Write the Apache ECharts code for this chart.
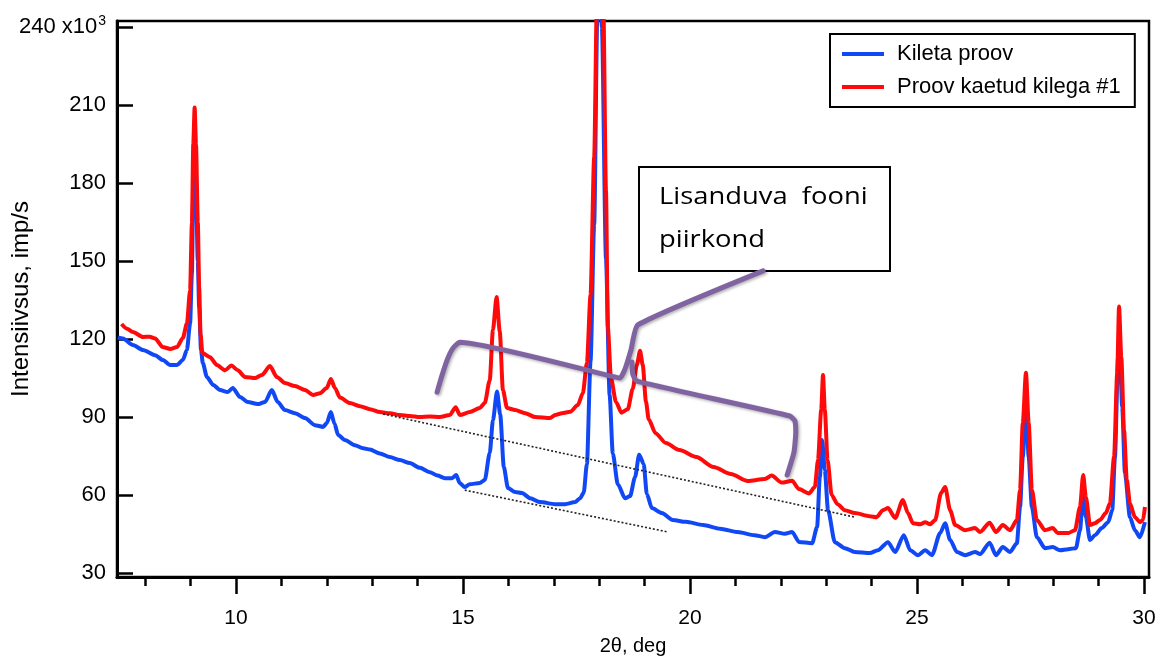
<!DOCTYPE html>
<html>
<head>
<meta charset="utf-8">
<script src="https://cdn.jsdelivr.net/npm/echarts@6/dist/echarts.min.js"></script>
<style>
  html, body { margin: 0; padding: 0; background: #fff; }
  #chart { width: 1160px; height: 659px; }
</style>
</head>
<body>
<div id="chart"></div>
<script>
// XRD scans: [2θ (deg), intensity (x10^3 imp/s)]
const kiletaProov = [
  [7.40,120.6],[7.51,120.2],[7.73,117.7],[7.95,115.8],[8.22,113.8],[8.39,111.9],[8.55,110.0],[8.70,110.0],
  [8.83,111.9],[8.92,115.8],[8.99,126.0],[9.03,145.4],[9.06,177.0],[9.09,195.0],[9.12,178.0],[9.16,150.0],
  [9.19,132.0],[9.23,115.8],[9.27,110.8],[9.36,105.4],[9.50,102.3],[9.65,100.4],[9.82,99.6],[9.93,101.2],
  [10.09,97.7],[10.26,95.8],[10.48,95.0],[10.64,95.8],[10.79,100.4],[10.92,95.8],[11.08,92.7],[11.30,91.5],
  [11.52,89.6],[11.74,86.9],[11.92,86.2],[12.00,87.7],[12.09,91.9],[12.17,87.5],[12.25,83.1],[12.40,81.2],
  [12.62,79.2],[12.80,78.0],[12.95,77.5],[13.17,76.0],[13.39,74.6],[13.61,73.5],[13.83,72.3],[14.05,70.5],
  [14.27,68.8],[14.44,67.5],[14.60,66.5],[14.76,66.5],[14.85,67.7],[14.93,64.6],[15.04,63.1],[15.15,64.2],
  [15.37,64.6],[15.48,65.8],[15.59,76.2],[15.66,88.8],[15.75,99.8],[15.82,91.0],[15.90,70.8],[15.99,62.7],
  [16.15,61.2],[16.30,60.8],[16.48,58.8],[16.70,57.3],[17.03,56.5],[17.25,56.5],[17.47,57.3],[17.58,58.8],
  [17.66,61.0],[17.73,72.0],[17.81,111.5],[17.89,164.0],[17.96,245.0],[18.01,262.0],[18.06,240.0],[18.15,150.8],
  [18.23,98.5],[18.30,76.0],[18.41,64.2],[18.57,58.8],[18.68,59.6],[18.79,66.9],[18.88,75.5],[18.98,72.0],
  [19.05,60.4],[19.16,55.0],[19.38,53.1],[19.62,50.4],[19.91,49.7],[20.29,48.5],[20.66,47.1],[21.05,45.8],
  [21.42,44.6],[21.65,43.8],[21.87,45.8],[22.09,45.1],[22.25,45.8],[22.40,42.0],[22.69,41.5],[22.80,47.7],
  [22.86,66.9],[22.91,81.2],[22.97,69.6],[23.04,54.2],[23.19,41.9],[23.41,39.6],[23.63,38.1],[23.96,37.7],
  [24.14,38.8],[24.36,41.9],[24.52,38.1],[24.71,44.6],[24.85,38.8],[25.02,36.9],[25.18,38.8],[25.33,36.9],
  [25.51,45.4],[25.62,49.2],[25.73,42.7],[25.88,38.1],[26.06,36.9],[26.28,38.1],[26.39,37.3],[26.60,41.7],
  [26.74,36.9],[26.89,40.0],[27.05,38.1],[27.20,41.5],[27.27,55.4],[27.33,74.6],[27.40,95.5],[27.46,74.6],
  [27.53,55.4],[27.64,43.8],[27.82,39.6],[27.99,40.0],[28.15,38.8],[28.33,39.2],[28.50,39.6],[28.59,46.5],
  [28.66,60.8],[28.72,51.5],[28.81,42.7],[28.92,44.6],[29.07,47.3],[29.21,49.6],[29.30,54.2],[29.36,74.6],
  [29.43,113.0],[29.46,120.0],[29.52,93.8],[29.58,68.5],[29.69,51.5],[29.80,46.5],[29.91,43.8],[30.02,49.6]
];

const proovKaetudKilega = [
  [7.48,125.8],[7.60,124.0],[7.73,122.7],[7.95,120.8],[8.10,120.9],[8.22,120.2],[8.39,116.9],[8.55,116.2],
  [8.70,116.9],[8.83,120.4],[8.92,126.0],[8.99,138.8],[9.03,164.6],[9.06,195.0],[9.09,209.0],[9.12,195.0],
  [9.16,165.0],[9.19,140.0],[9.22,122.0],[9.26,114.6],[9.43,113.0],[9.58,110.0],[9.76,108.0],[9.90,109.8],
  [10.04,108.0],[10.20,105.4],[10.42,105.0],[10.57,106.2],[10.75,109.6],[10.90,105.4],[11.08,103.1],[11.30,101.9],
  [11.52,100.4],[11.70,98.5],[11.85,99.2],[12.00,101.2],[12.09,104.6],[12.18,101.2],[12.29,97.5],[12.51,95.4],
  [12.73,94.2],[12.95,93.0],[13.17,91.9],[13.39,91.5],[13.61,90.8],[13.83,90.4],[14.05,90.0],[14.27,90.2],
  [14.49,90.0],[14.71,90.8],[14.84,93.8],[14.93,90.8],[15.15,91.9],[15.37,93.5],[15.48,95.4],[15.59,104.2],
  [15.66,123.5],[15.74,136.2],[15.81,123.0],[15.88,100.4],[15.97,93.5],[16.15,92.7],[16.37,91.5],[16.59,90.0],
  [16.92,89.6],[17.03,90.8],[17.18,91.5],[17.36,92.0],[17.53,94.6],[17.64,99.2],[17.73,110.8],[17.81,137.0],
  [17.89,190.0],[17.95,250.0],[18.02,275.0],[18.09,250.0],[18.15,177.0],[18.19,124.6],[18.26,105.0],[18.37,95.8],
  [18.49,91.7],[18.63,93.0],[18.74,100.9],[18.83,110.0],[18.90,115.5],[18.96,110.0],[19.03,96.0],[19.09,89.2],
  [19.24,83.8],[19.47,80.0],[19.77,77.3],[20.14,74.6],[20.52,70.8],[20.90,68.1],[21.27,65.4],[21.65,66.2],
  [21.80,67.5],[22.02,64.8],[22.25,65.5],[22.40,62.3],[22.62,60.6],[22.75,63.1],[22.82,73.5],[22.89,92.7],
  [22.93,106.2],[22.97,92.7],[23.03,73.5],[23.12,60.0],[23.25,56.5],[23.41,54.2],[23.63,53.1],[23.96,51.9],
  [24.11,51.5],[24.25,54.2],[24.36,55.0],[24.52,51.2],[24.69,58.1],[24.80,53.1],[24.91,49.2],[25.07,48.8],
  [25.18,49.6],[25.29,48.8],[25.40,50.4],[25.53,60.8],[25.62,63.1],[25.73,54.2],[25.84,48.5],[26.06,46.5],
  [26.28,47.3],[26.39,45.8],[26.60,49.4],[26.74,45.8],[26.89,48.5],[27.05,46.5],[27.20,50.4],[27.27,62.0],
  [27.33,87.7],[27.40,107.0],[27.46,87.7],[27.53,62.0],[27.64,50.4],[27.82,46.5],[27.99,47.3],[28.10,45.4],
  [28.33,45.4],[28.48,46.5],[28.59,55.4],[28.66,67.7],[28.72,59.2],[28.81,48.5],[28.92,49.2],[29.03,50.4],
  [29.16,53.1],[29.25,56.9],[29.34,74.6],[29.41,106.9],[29.45,132.5],[29.50,113.0],[29.56,85.0],[29.62,66.0],
  [29.69,56.9],[29.80,51.5],[29.91,49.6],[29.98,50.4],[30.02,55.4]
];

// Background guide lines (dotted) under the amorphous hump
const backgroundGuideUpper = [[13.24, 91.2], [23.63, 51.5]];
const backgroundGuideLower = [[15.04, 61.9], [19.52, 45.8]];

// Brace marking the region of added background, with its pointer to the note
const braceLeft = [
  [14.43, 99.6], [14.52, 105.0], [14.65, 111.9], [14.78, 116.5], [14.93, 118.8],
  [18.35, 105.4], [18.46, 105.0], [18.57, 108.5], [18.70, 115.8], [18.85, 125.4], [21.61, 146.2]
];
const braceRight = [
  [18.72, 111.2], [18.74, 106.5], [18.83, 103.8], [22.20, 90.4], [22.31, 88.5],
  [22.33, 84.2], [22.29, 76.5], [22.14, 67.7]
];

const yTicks = [30, 60, 90, 120, 150, 180, 210, 240];
const xMajorTicks = [10, 15, 20, 25, 30];
const xMinorTicks = [8, 9, 11, 12, 13, 14, 16, 17, 18, 19, 21, 22, 23, 24, 26, 27, 28, 29];

const seriesNames = ['Kileta proov', 'Proov kaetud kilega #1'];
const noteText = 'Lisanduva  fooni\npiirkond';

const FONT = '"Liberation Sans", Arial, sans-serif';
const X_MIN = 7.38, X_MAX = 30.11, Y_MIN = 28.5, Y_MAX = 242.3;

const chart = echarts.init(document.getElementById('chart'), null, { renderer: 'canvas' });

const baseX = {
  type: 'value', min: X_MIN, max: X_MAX, position: 'bottom',
  splitLine: { show: false }
};

const braceStyle = {
  color: '#8064A2', width: 5, cap: 'round', join: 'round',
  shadowColor: 'rgba(0,0,0,0.3)', shadowBlur: 3, shadowOffsetX: 1.5, shadowOffsetY: 1.5
};

const option = {
  animation: false,
  backgroundColor: '#fff',
  grid: {
    left: 117, right: 11, top: 21, bottom: 82,
    containLabel: false, outerBoundsMode: 'none',
    show: true, borderColor: '#000', borderWidth: 2.5, backgroundColor: 'transparent'
  },
  legend: {
    orient: 'vertical',
    left: 830, top: 34,
    data: seriesNames,
    icon: 'rect',
    itemWidth: 42, itemHeight: 4,
    itemGap: 11,
    itemStyle: { borderWidth: 0 },
    textStyle: { fontFamily: FONT, fontSize: 22, color: '#000', padding: [0, 0, 0, 8] },
    borderColor: '#000', borderWidth: 2,
    backgroundColor: '#fff',
    padding: [9, 14, 9, 12]
  },
  xAxis: [
    Object.assign({}, baseX, {
      name: '2θ, deg',
      nameLocation: 'middle',
      nameGap: 59,
      nameMoveOverlap: false,
      nameTextStyle: { fontFamily: FONT, fontSize: 20, color: '#000' },
      axisLine: { show: true, onZero: false, lineStyle: { color: '#000', width: 3 } },
      axisTick: { show: true, inside: false, length: 17, lineStyle: { color: '#000', width: 2.5 },
                  customValues: xMajorTicks },
      axisLabel: { show: true, margin: 31, fontFamily: FONT, fontSize: 21, color: '#000',
                   customValues: xMajorTicks, formatter: v => String(v) }
    }),
    Object.assign({}, baseX, {
      axisLine: { show: false, onZero: false },
      axisTick: { show: true, inside: false, length: 9, lineStyle: { color: '#000', width: 2.5 },
                  customValues: xMinorTicks },
      axisLabel: { show: false }
    })
  ],
  yAxis: {
    type: 'value', min: Y_MIN, max: Y_MAX,
    name: 'Intensiivsus, imp/s',
    nameLocation: 'middle',
    nameGap: 84,
    nameMoveOverlap: false,
    nameRotate: 90,
    nameTextStyle: { fontFamily: FONT, fontSize: 24, color: '#000' },
    splitLine: { show: false },
    axisLine: { show: true, onZero: false, lineStyle: { color: '#000', width: 3 } },
    axisTick: { show: true, inside: true, length: 16, lineStyle: { color: '#000', width: 2.5 },
                customValues: yTicks },
    axisLabel: {
      show: true, margin: 11, color: '#000', fontFamily: FONT, fontSize: 22,
      customValues: yTicks,
      formatter: v => (v === 240 ? '{a|240 x10}{s|3}' : '{a|' + v + '}'),
      rich: {
        a: { fontFamily: FONT, fontSize: 22, color: '#000' },
        s: { fontFamily: FONT, fontSize: 14, color: '#000', verticalAlign: 'top', padding: [0, 0, 12, 1] }
      }
    }
  },
  series: [
    {
      name: seriesNames[0], type: 'line', data: kiletaProov,
      showSymbol: false, smooth: 0.25, smoothMonotone: 'x', clip: true,
      color: '#1148F5',
      lineStyle: { color: '#1148F5', width: 4 }, z: 3
    },
    {
      name: seriesNames[1], type: 'line', data: proovKaetudKilega,
      showSymbol: false, smooth: 0.25, smoothMonotone: 'x', clip: true,
      color: '#FF0A0A',
      lineStyle: { color: '#FF0A0A', width: 4 }, z: 4
    },
    {
      type: 'line', data: backgroundGuideUpper, silent: true, showSymbol: false,
      lineStyle: { color: '#222', width: 1.6, type: [2, 2] }, z: 5
    },
    {
      type: 'line', data: backgroundGuideLower, silent: true, showSymbol: false,
      lineStyle: { color: '#222', width: 1.6, type: [2, 2] }, z: 5
    },
    {
      type: 'line', data: braceLeft, silent: true, showSymbol: false, smooth: 0.15,
      lineStyle: braceStyle, z: 6
    },
    {
      type: 'line', data: braceRight, silent: true, showSymbol: false, smooth: 0.15,
      lineStyle: braceStyle, z: 6
    }
  ],
  graphic: [
    {
      type: 'group', left: 638, top: 166, z: 100,
      children: [
        {
          type: 'rect', shape: { x: 0, y: 0, width: 251, height: 104 },
          style: { fill: '#fff', stroke: '#000', lineWidth: 2 }
        },
        {
          type: 'text', x: 20, y: 9, scaleX: 1.14,
          style: { text: noteText, font: '24px "Open Sans", "Noto Sans", sans-serif',
                   fill: '#000', lineHeight: 43 }
        }
      ]
    }
  ]
};

chart.setOption(option);
</script>
</body>
</html>
